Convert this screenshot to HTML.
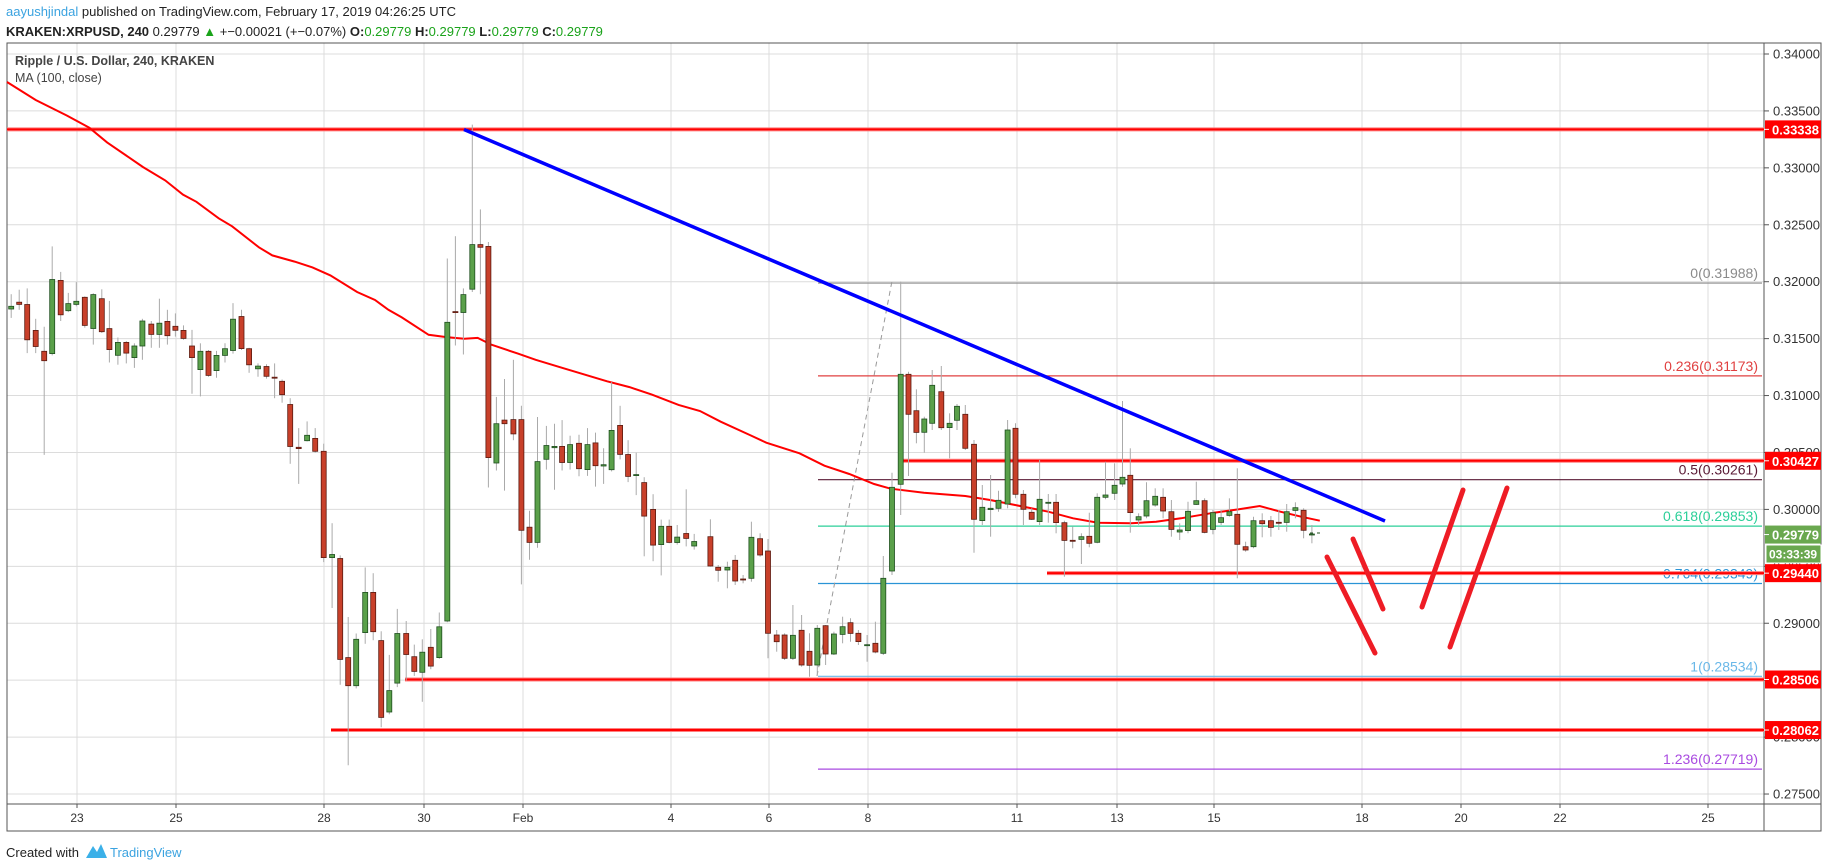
<!DOCTYPE html>
<html><head><meta charset="utf-8">
<style>
body{margin:0;background:#fff;width:1828px;height:868px;overflow:hidden;font-family:"Liberation Sans",sans-serif;}
#hdr1{position:absolute;left:6px;top:4px;font-size:13px;color:#222;}
#hdr2{position:absolute;left:6px;top:24px;font-size:13px;color:#222;}
.g{color:#1aa31a}
</style></head><body>
<div id="hdr1"><span style="color:#3ba3e0">aayushjindal</span> published on TradingView.com, February 17, 2019 04:26:25 UTC</div>
<div id="hdr2"><b>KRAKEN:XRPUSD, 240</b> 0.29779 <span class="g">▲</span> +−0.00021 (+−0.07%) <b>O:</b><span class="g">0.29779</span> <b>H:</b><span class="g">0.29779</span> <b>L:</b><span class="g">0.29779</span> <b>C:</b><span class="g">0.29779</span></div>
<svg id="s" width="1828" height="868" style="position:absolute;left:0;top:0" xmlns="http://www.w3.org/2000/svg" font-family="Liberation Sans, sans-serif"></svg>
<script>
const s=document.getElementById('s');let h='';
const Y=p=>54+(0.34-p)*11385;
for(let k=0;k<=13;k++){const y=54+k*56.925;h+=`<line x1="7" x2="1764" y1="${y}" y2="${y}" stroke="#dcdcdc"/>`;}
const days=[[77,'23'],[176,'25'],[324,'28'],[424,'30'],[523,'Feb'],[671,'4'],[769,'6'],[868,'8'],[1017,'11'],[1117,'13'],[1214,'15'],[1362,'18'],[1461,'20'],[1560,'22'],[1708,'25']];
for(const [x,t] of days){h+=`<line x1="${x}" x2="${x}" y1="43" y2="804" stroke="#dcdcdc"/><line x1="${x}" x2="${x}" y1="804" y2="808" stroke="#555"/><text x="${x}" y="822" font-size="12" fill="#333" text-anchor="middle">${t}</text>`;}
h+=`<rect x="7" y="43" width="1814" height="788" fill="none" stroke="#555"/><line x1="1764" x2="1764" y1="43" y2="831" stroke="#555"/><line x1="7" x2="1821" y1="804" y2="804" stroke="#555"/>`;
for(let k=0;k<=13;k++){const y=54+k*56.925;const p=(0.34-k*0.005).toFixed(5);h+=`<line x1="1764" x2="1769" y1="${y}" y2="${y}" stroke="#555"/><text x="1773" y="${y+4.5}" font-size="13" fill="#333">${p}</text>`;}
h+=`<text x="15" y="65" font-size="12.5" font-weight="bold" fill="#444">Ripple / U.S. Dollar, 240, KRAKEN</text><text x="15" y="82" font-size="12.5" fill="#444">MA (100, close)</text>`;
const fib=[[0.31988,'0(0.31988)','#8a8a8a'],[0.31173,'0.236(0.31173)','#e04040'],[0.30261,'0.5(0.30261)','#5a1a35'],[0.29853,'0.618(0.29853)','#2ccf99'],[0.29349,'0.764(0.29349)','#2a94d6'],[0.28534,'1(0.28534)','#6ab8e8'],[0.27719,'1.236(0.27719)','#a94ae0']];
for(const [p,t,c] of fib){const y=Y(p);h+=`<line x1="818" x2="1762" y1="${y}" y2="${y}" stroke="${c}" stroke-width="1.2"/><text x="1758" y="${y-5}" font-size="14" fill="${c}" text-anchor="end">${t}</text>`;}
h+=`<line x1="817" y1="676" x2="892" y2="281" stroke="#999" stroke-dasharray="5,4"/>`;
const hl=[[0.33338,7],[0.30427,899],[0.2944,1047],[0.28506,405],[0.28062,331]];
for(const [p,x] of hl){const y=Y(p);h+=`<line x1="${x}" x2="1764" y1="${y}" y2="${y}" stroke="#ff8080" stroke-width="4"/><line x1="${x}" x2="1764" y1="${y}" y2="${y}" stroke="#f00" stroke-width="2"/>`;}
const c7=[[25,462,468,435,488,1],[43,453,458,425,470,0],[61,458,537,422,567,0],[80,516,552,490,567,0],[99,563,584,508,795,0],[117,402,568,328,572,1],[136,404,481,385,495,0],[153,456,472,432,475,1],[171,451,458,408,462,1],[190,442,505,440,510,0],[209,436,512,433,548,1],[228,445,519,424,522,0],[245,512,559,450,588,0],[264,543,572,532,593,1],[283,543,567,540,590,0],[301,551,577,545,600,1],[319,495,551,490,582,1],[339,502,525,495,555,0],[357,500,525,445,555,1],[375,496,528,470,548,0],[393,507,516,478,530,0],[411,516,534,505,537,0],[430,551,577,515,658,0],[449,563,604,545,664,1],[467,563,617,560,620,0],[485,572,606,562,622,1],[504,557,572,545,588,1],[522,491,561,455,568,1],[541,485,557,470,560,0],[558,557,593,555,611,0],[578,596,602,590,620,1],[597,597,619,592,624,0],[615,621,623,590,668,0],[632,630,660,626,678,0],[650,682,776,668,815,0],[669,778,781,735,860,0],[688,751,763,720,765,1],[706,758,787,735,790,0],[725,787,1025,770,1035,0],[744,1018,1025,948,1138,1],[762,1027,1253,1020,1310,0],[780,1249,1312,1158,1490,0],[798,1208,1312,1195,1318,1],[818,1103,1193,1047,1218,1],[836,1103,1191,1060,1210,0],[854,1211,1383,1190,1405,0],[872,1323,1371,1243,1376,1],[890,1195,1306,1140,1315,1],[910,1195,1242,1167,1300,0],[928,1247,1280,1220,1290,0],[946,1237,1282,1208,1348,1],[965,1226,1268,1185,1275,0],[984,1180,1249,1148,1252,1],[1002,498,1167,355,1170,1],[1020,474,476,305,550,0],[1038,436,476,422,570,1],[1058,324,424,55,430,1],[1076,324,330,245,435,0],[1094,328,801,318,868,0],[1112,725,813,665,830,1],[1130,717,725,625,875,0],[1150,716,748,582,762,0],[1168,716,964,685,1085,0],[1186,957,991,920,1030,0],[1204,810,991,710,1003,1],[1224,774,805,730,828,1],[1242,776,779,725,873,1],[1259,776,812,717,830,0],[1277,772,812,752,828,1],[1297,769,826,750,843,0],[1316,772,828,735,842,1],[1334,768,819,745,866,0],[1352,817,820,780,860,1],[1370,740,828,632,832,1],[1389,729,794,685,805,0],[1407,794,843,762,856,0],[1425,839,841,790,885,1],[1443,857,932,845,1022,0],[1463,917,997,883,1033,0],[1481,955,996,940,1065,1],[1499,955,991,940,993,0],[1517,979,991,952,996,1],[1537,971,982,872,1000,0],[1555,989,999,972,1007,1]];
const c8=[[25,1010,1098,958,1100,0],[44,1102,1111,1095,1145,0],[66,1102,1110,1085,1165,1],[85,1081,1143,1065,1155,0],[104,1137,1139,1125,1150,0],[124,1012,1135,965,1145,1],[145,1016,1065,1000,1070,0],[164,1053,1300,1017,1375,0],[185,1305,1325,1290,1355,0],[204,1305,1375,1300,1380,0],[224,1306,1375,1215,1380,1],[245,1291,1395,1245,1400,0],[264,1354,1396,1300,1430,0],[283,1285,1395,1275,1425,1],[303,1277,1362,1275,1395,0],[323,1302,1362,1295,1365,1],[344,1280,1303,1250,1330,1],[363,1268,1300,1255,1325,0],[382,1300,1325,1290,1335,0],[403,1334,1336,1305,1385,1],[423,1330,1356,1265,1360,0],[442,1135,1360,1068,1365,1],[463,862,1113,818,1125,1],[484,523,853,245,945,1],[503,523,643,515,828,0],[522,632,697,568,730,0],[541,657,697,650,758,1],[560,556,670,510,690,1],[582,575,683,498,690,0],[602,670,683,640,775,1],[620,619,661,612,690,1],[640,643,745,615,750,0],[661,733,958,720,1058,0],[681,922,962,855,975,1],[701,925,929,825,1010,1],[720,901,925,872,935,1],[742,690,912,660,925,1],[761,685,883,670,895,0],[780,883,928,870,975,0],[800,937,958,925,960,0],[819,898,965,780,975,1],[840,907,908,882,968,1],[859,907,968,882,1000,0],[879,968,1021,962,1130,0],[899,1021,1024,980,1045,0],[920,1010,1018,1000,1092,1],[939,1009,1030,938,1042,0],[958,892,1027,880,1030,1],[978,885,892,785,898,1],[1000,856,880,790,900,1],[1019,832,852,603,860,1],[1038,826,938,745,998,0],[1058,950,960,940,975,1],[1077,902,948,847,955,1],[1098,889,915,865,920,1],[1117,892,933,865,955,0],[1137,935,988,900,1010,0],[1157,990,996,970,1020,1],[1177,934,992,905,1000,1],[1197,902,913,845,915,1],[1217,902,997,895,1000,0],[1237,938,988,930,1003,1],[1257,953,967,930,975,1],[1277,935,946,895,950,1],[1296,943,1033,805,1135,0],[1316,1040,1050,1025,1055,0],[1335,962,1040,950,1045,1],[1356,962,971,940,1012,0],[1377,962,982,948,1010,0],[1396,967,970,930,990,0],[1415,935,967,912,995,1],[1436,923,931,907,955,1],[1456,931,991,925,1015,0],[1476,1002,1003,975,1030,1]];
const cs=[];
for(const c of c7)cs.push([c[0]/2.24,100+c[1]/2.24,100+c[2]/2.24,100+c[3]/2.24,100+c[4]/2.24,c[5]]);
for(const c of c8)cs.push([700+c[0]/2.412,200+c[1]/3,200+c[2]/3,200+c[3]/3,200+c[4]/3,c[5]]);
const m7=[[0,0],[80,0],[150,35],[200,62],[240,95],[320,150],[370,180],[410,212],[440,228],[490,265],[520,283],[580,330],[610,348],[660,362],[700,375],[740,393],[800,430],[840,448],[870,470],[900,487],[960,526],[1000,531],[1040,535],[1070,533],[1100,548],[1160,568],[1200,582],[1260,600],[1360,630],[1410,643],[1460,660],[1520,683]];
const m8=[[0,633],[50,665],[120,705],[160,728],[240,760],[300,797],[360,822],[420,852],[460,866],[540,878],[640,888],[700,900],[760,915],[840,935],[900,955],[960,968],[1040,970],[1100,965],[1160,955],[1240,938],[1300,928],[1350,918],[1400,935],[1450,950],[1495,962]];
let pts=[[7,82]];for(const p of m7)if(p[0]>=40)pts.push([p[0]/2.24,100+p[1]/2.24]);for(const p of m8)pts.push([700+p[0]/2.412,200+p[1]/3]);
h+=`<polyline points="${pts.map(p=>p.map(v=>v.toFixed(1)).join(',')).join(' ')}" fill="none" stroke="#f00" stroke-width="2"/>`;
for(const [x,bt,bb,wt,wb,g] of cs){h+=`<line x1="${x.toFixed(1)}" x2="${x.toFixed(1)}" y1="${wt.toFixed(1)}" y2="${wb.toFixed(1)}" stroke="#aaa"/>`;
const hgt=Math.max(bb-bt,1);h+=`<rect x="${(x-2.5).toFixed(1)}" y="${bt.toFixed(1)}" width="5" height="${hgt.toFixed(1)}" fill="${g?'#5aa04a':'#c8402a'}" stroke="${g?'#1f4f1f':'#5a1a10'}" stroke-width="0.8"/>`;}
h+=`<line x1="1310" x2="1313" y1="533" y2="533" stroke="#1f4f1f"/><line x1="1317" x2="1320" y1="533" y2="533" stroke="#1f4f1f"/>`;
h+=`<line x1="464" y1="129.5" x2="1385" y2="521" stroke="#0000ff" stroke-width="3.5"/>`;
const st=[[1327,557,1375,653],[1353,539,1383,609],[1422,607,1463,490],[1450,647,1507,488]];
for(const [a,b,c,d] of st)h+=`<line x1="${a}" y1="${b}" x2="${c}" y2="${d}" stroke="#ee1c25" stroke-width="5" stroke-linecap="round"/>`;
const mk=[[0.33338,'0.33338','#f00'],[0.30427,'0.30427','#f00'],[0.2944,'0.29440','#f00'],[0.28506,'0.28506','#f00'],[0.28062,'0.28062','#f00'],[0.29779,'0.29779','#6aa84f']];
for(const [p,t,c] of mk){const y=Y(p);h+=`<rect x="1765" y="${y-9}" width="56" height="18" fill="${c}"/><line x1="1764" x2="1769" y1="${y}" y2="${y}" stroke="#fff"/><text x="1772" y="${y+5}" font-size="13" font-weight="bold" fill="#fff">${t}</text>`;}
h+=`<rect x="1766" y="545" width="55" height="18" fill="#6aa84f" stroke="#fff"/><text x="1769" y="558.5" font-size="12" font-weight="bold" fill="#fff">03:33:39</text>`;
h+=`<text x="6" y="857" font-size="13" fill="#222">Created with</text><path d="M86 858 l7-12 l4 6 l4-8 l6 14 z" fill="#3bb0e8"/><text x="110" y="857" font-size="13" fill="#3ba3e0">TradingView</text>`;
s.innerHTML=h;
</script>
</body></html>
